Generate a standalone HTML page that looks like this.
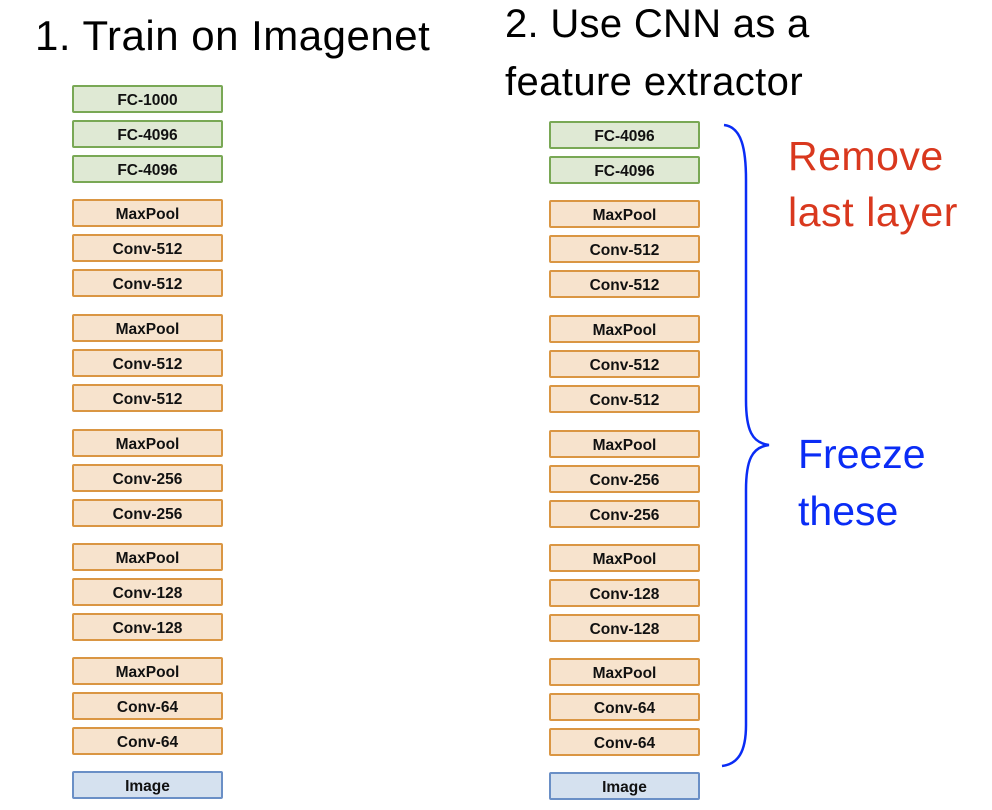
<!DOCTYPE html>
<html><head><style>
body{margin:0;width:992px;height:810px;background:#fff;position:relative;overflow:hidden;font-family:"Liberation Sans",sans-serif}
.t{position:absolute;white-space:nowrap;line-height:1}
.b{position:absolute;width:147px;height:24px;border:2px solid;border-radius:2px;font-weight:bold;font-size:15.5px;text-align:center;line-height:27px;color:#111}
.g{background:#dfe9d4;border-color:#79a855}
.o{background:#f7e3cd;border-color:#da9643}
.bl{background:#d5e1ef;border-color:#6a8fc6}
</style></head><body>
<div class="t" style="left:35px;top:15px;font-size:42px;letter-spacing:0.5px">1. Train on Imagenet</div>
<div class="t" style="left:505px;top:4px;font-size:40px;letter-spacing:0.3px">2. Use CNN as a</div>
<div class="t" style="left:505px;top:62px;font-size:40px;letter-spacing:0.4px">feature extractor</div>
<div class="t" style="left:788px;top:136px;font-size:41px;color:#d9381e;letter-spacing:0.5px">Remove</div>
<div class="t" style="left:788px;top:192px;font-size:41px;color:#d9381e;letter-spacing:0.6px">last layer</div>
<div class="t" style="left:798px;top:434px;font-size:41px;color:#0a2cf5">Freeze</div>
<div class="t" style="left:798px;top:491px;font-size:41px;color:#0a2cf5">these</div>

<div class="b g" style="left:72px;top:85px">FC-1000</div>
<div class="b g" style="left:72px;top:120px">FC-4096</div>
<div class="b g" style="left:72px;top:155px">FC-4096</div>
<div class="b o" style="left:72px;top:199px">MaxPool</div>
<div class="b o" style="left:72px;top:234px">Conv-512</div>
<div class="b o" style="left:72px;top:269px">Conv-512</div>
<div class="b o" style="left:72px;top:314px">MaxPool</div>
<div class="b o" style="left:72px;top:349px">Conv-512</div>
<div class="b o" style="left:72px;top:384px">Conv-512</div>
<div class="b o" style="left:72px;top:429px">MaxPool</div>
<div class="b o" style="left:72px;top:464px">Conv-256</div>
<div class="b o" style="left:72px;top:499px">Conv-256</div>
<div class="b o" style="left:72px;top:543px">MaxPool</div>
<div class="b o" style="left:72px;top:578px">Conv-128</div>
<div class="b o" style="left:72px;top:613px">Conv-128</div>
<div class="b o" style="left:72px;top:657px">MaxPool</div>
<div class="b o" style="left:72px;top:692px">Conv-64</div>
<div class="b o" style="left:72px;top:727px">Conv-64</div>
<div class="b bl" style="left:72px;top:771px">Image</div>

<div class="b g" style="left:549px;top:121px">FC-4096</div>
<div class="b g" style="left:549px;top:156px">FC-4096</div>
<div class="b o" style="left:549px;top:200px">MaxPool</div>
<div class="b o" style="left:549px;top:235px">Conv-512</div>
<div class="b o" style="left:549px;top:270px">Conv-512</div>
<div class="b o" style="left:549px;top:315px">MaxPool</div>
<div class="b o" style="left:549px;top:350px">Conv-512</div>
<div class="b o" style="left:549px;top:385px">Conv-512</div>
<div class="b o" style="left:549px;top:430px">MaxPool</div>
<div class="b o" style="left:549px;top:465px">Conv-256</div>
<div class="b o" style="left:549px;top:500px">Conv-256</div>
<div class="b o" style="left:549px;top:544px">MaxPool</div>
<div class="b o" style="left:549px;top:579px">Conv-128</div>
<div class="b o" style="left:549px;top:614px">Conv-128</div>
<div class="b o" style="left:549px;top:658px">MaxPool</div>
<div class="b o" style="left:549px;top:693px">Conv-64</div>
<div class="b o" style="left:549px;top:728px">Conv-64</div>
<div class="b bl" style="left:549px;top:772px">Image</div>

<svg style="position:absolute;left:0;top:0" width="992" height="810">
<path d="M724 125 C742 127 746 150 746 180 L746 400 C746 430 752 443 769 445 C752 447 746 460 746 490 L746 725 C746 752 738 764 722 766" fill="none" stroke="#0a2cf5" stroke-width="2.5"/>
</svg>
</body></html>
